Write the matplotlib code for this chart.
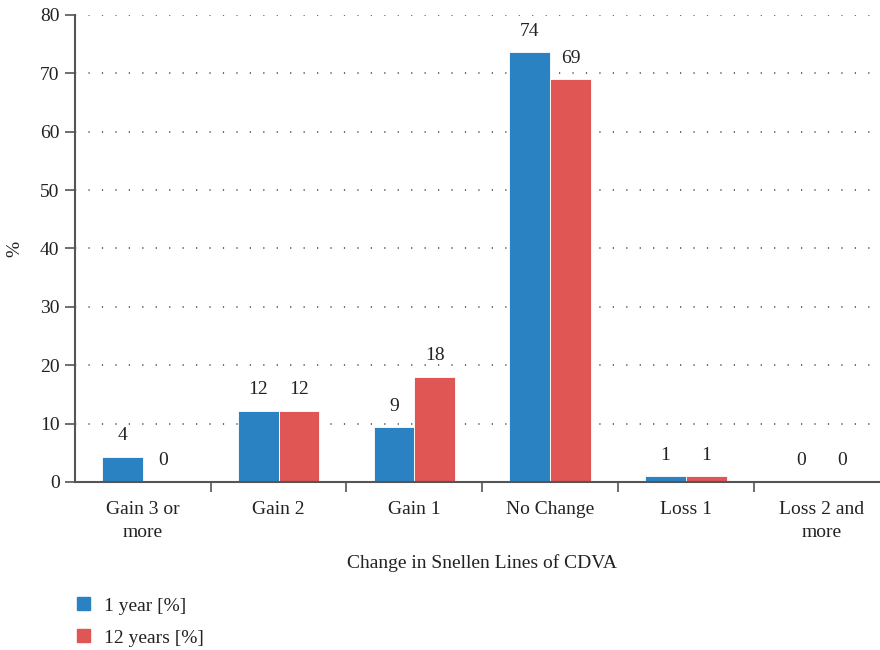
import numpy as np
import matplotlib
matplotlib.use("Agg")
import matplotlib.pyplot as plt
from matplotlib.patches import Patch

plt.rcParams["font.family"] = ["Liberation Serif", "DejaVu Serif"]

categories = ["Gain 3 or\nmore", "Gain 2", "Gain 1", "No Change", "Loss 1", "Loss 2 and\nmore"]
one_year = [4.3, 12.2, 9.4, 73.6, 1.0, 0.0]
twelve_years = [0.0, 12.2, 18.0, 69.0, 1.0, 0.0]
series_names = ["1 year [%]", "12 years [%]"]
BLUE = "#2a82c3"
RED = "#df5655"
AXC = "#555555"
FS = 14

fig = plt.figure(figsize=(8.8, 6.5), dpi=100)
ax = fig.add_axes([0.085, 0.2585, 0.926, 0.7185])

x = np.arange(len(categories))
w = 0.30
b1 = ax.bar(x - w / 2, one_year, w, color=BLUE, edgecolor="white", linewidth=0.6)
b2 = ax.bar(x + w / 2, twelve_years, w, color=RED, edgecolor="white", linewidth=0.6)
for bars in (b1, b2):
    ax.bar_label(bars, fmt="%.0f", padding=9, fontsize=FS, color="#222")

ax.set_xlim(-0.5, len(categories) - 0.5)
ax.set_ylim(0, 80)
ax.set_yticks(range(0, 81, 10))
ax.set_xticks(x)
ax.set_xticklabels(categories, fontsize=FS, color="#222", linespacing=1.4)
ax.set_xticks(np.arange(0.5, len(categories) - 0.5, 1), minor=True)
ax.tick_params(axis="x", which="major", length=0, pad=14)
ax.tick_params(axis="x", which="minor", length=7, width=1.2, color=AXC, direction="out")
ax.tick_params(axis="y", length=7, width=1.2, color=AXC, labelsize=FS, labelcolor="#222", pad=4)

ax.grid(axis="y", linestyle=(0, (0.8, 8)), linewidth=1.1, color="#444")
ax.set_axisbelow(True)
for s in ("top", "right"):
    ax.spines[s].set_visible(False)
for s in ("left", "bottom"):
    ax.spines[s].set_color(AXC)
    ax.spines[s].set_linewidth(1.5)

ax.set_xlabel("Change in Snellen Lines of CDVA", fontsize=FS, color="#222", labelpad=10)
ax.set_ylabel("%", fontsize=FS, color="#222", labelpad=12)

handles = [Patch(color=BLUE), Patch(color=RED)]
fig.legend(handles, series_names, loc="upper left", bbox_to_anchor=(0.068, 0.108), frameon=False,
           fontsize=FS, handlelength=0.65, handleheight=0.65, handletextpad=0.7, labelspacing=0.75,
           labelcolor="#222")

fig.savefig("out.png", dpi=100)
